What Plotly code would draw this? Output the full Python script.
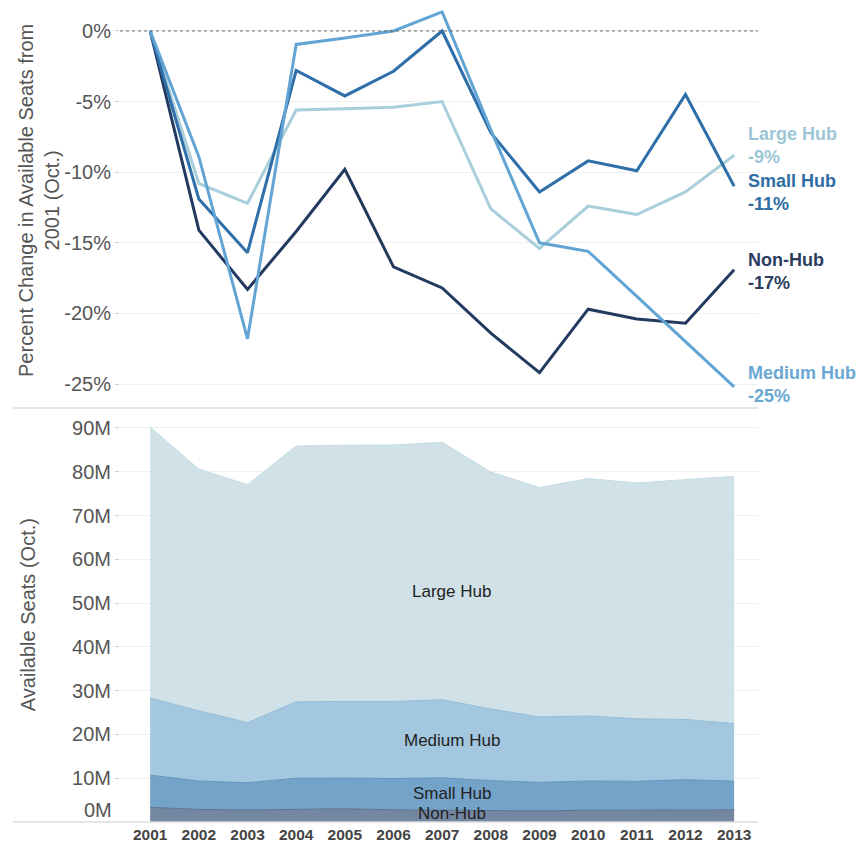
import plotly.graph_objects as go

years = [2001, 2002, 2003, 2004, 2005, 2006, 2007, 2008, 2009, 2010, 2011, 2012, 2013]

# Percent change in available seats from 2001 (Oct.)
pct_large = [0, -10.8, -12.2, -5.6, -5.5, -5.4, -5.0, -12.6, -15.4, -12.4, -13.0, -11.4, -8.8]
pct_medium = [0, -8.9, -21.8, -0.95, -0.5, 0.0, 1.35, -7.0, -15.0, -15.6, -18.8, -22.0, -25.2]
pct_small = [0, -11.9, -15.7, -2.8, -4.6, -2.85, 0.0, -7.2, -11.4, -9.2, -9.9, -4.5, -11.0]
pct_non = [0, -14.1, -18.3, -14.2, -9.8, -16.7, -18.2, -21.4, -24.2, -19.7, -20.4, -20.7, -16.9]

# Available seats (Oct.), millions
seats_non = [3.35, 2.88, 2.74, 2.87, 3.02, 2.79, 2.74, 2.63, 2.54, 2.69, 2.67, 2.66, 2.78]
seats_small = [7.35, 6.48, 6.2, 7.14, 7.01, 7.14, 7.35, 6.82, 6.51, 6.67, 6.62, 7.02, 6.54]
seats_medium = [17.6, 16.03, 13.76, 17.43, 17.51, 17.6, 17.84, 16.37, 14.96, 14.85, 14.29, 13.73, 13.17]
seats_large = [61.9, 55.2, 54.35, 58.43, 58.5, 58.56, 58.8, 54.1, 52.37, 54.22, 53.85, 54.84, 56.45]

pct_ticks = [0, -5, -10, -15, -20, -25]
pct_ticktext = ["0%", "-5%", "-10%", "-15%", "-20%", "-25%"]
seat_ticks = [10, 20, 30, 40, 50, 60, 70, 80, 90]
seat_ticktext = ["10M", "20M", "30M", "40M", "50M", "60M", "70M", "80M", "90M"]
year_ticktext = ["<b>%d</b>" % y for y in years]

C_LARGE = "#a9cfdb"
C_MEDIUM = "#62a4d3"
C_SMALL = "#2e6ea9"
C_NON = "#233a60"

F_LARGE = "#d0e2e8"
F_MEDIUM = "#a3c7df"
F_SMALL = "#73a3c8"
F_NON = "#7487a2"

FONT = "Liberation Sans, Arial, sans-serif"
GRAY = "#555555"

fig = go.Figure()

# Top: percent change lines
for name, vals, col in [("Non-Hub", pct_non, C_NON), ("Large Hub", pct_large, C_LARGE),
                        ("Small Hub", pct_small, C_SMALL), ("Medium Hub", pct_medium, C_MEDIUM)]:
    fig.add_trace(go.Scatter(x=years, y=vals, mode="lines", name=name,
                             line=dict(color=col, width=3), xaxis="x", yaxis="y",
                             showlegend=False, hoverinfo="skip"))

# Bottom: stacked areas
for name, vals, fc, lc in [("Non-Hub", seats_non, F_NON, "#5e7391"),
                           ("Small Hub", seats_small, F_SMALL, "#5f94bd"),
                           ("Medium Hub", seats_medium, F_MEDIUM, "#94bcd7"),
                           ("Large Hub", seats_large, F_LARGE, "#c5dbe3")]:
    fig.add_trace(go.Scatter(x=years, y=vals, mode="lines", name=name, stackgroup="seats",
                             fillcolor=fc, line=dict(color=lc, width=1),
                             xaxis="x2", yaxis="y2", showlegend=False, hoverinfo="skip"))

xrange = [2000.38, 2013.49]
fig.update_layout(
    width=861, height=843,
    margin=dict(l=120, r=103, t=5, b=21, autoexpand=False),
    paper_bgcolor="white", plot_bgcolor="white",
    font=dict(family=FONT, color=GRAY),
    xaxis=dict(domain=[0, 1], range=xrange, anchor="y", showticklabels=False, automargin=False,
               showgrid=False, zeroline=False, showline=False, ticks=""),
    yaxis=dict(domain=[0.5067, 1], range=[-26.7, 1.84], tickvals=pct_ticks, ticktext=pct_ticktext,
               tickfont=dict(size=20, color=GRAY), showgrid=True, gridcolor="#efefef",
               automargin=False,
               zeroline=False, showline=False, ticks="outside", ticklen=4, tickcolor="#d0d0d0",
               tickwidth=1),
    xaxis2=dict(domain=[0, 1], range=xrange, anchor="y2", tickvals=years,
                ticktext=year_ticktext, ticklabelstandoff=1, automargin=False,
                tickfont=dict(size=15.5, color="#444444"),
                showgrid=False, zeroline=False, showline=False, ticks=""),
    yaxis2=dict(domain=[0, 0.5043], range=[0, 94.1], tickvals=seat_ticks, ticktext=seat_ticktext,
                tickfont=dict(size=20, color=GRAY), showgrid=True, gridcolor="#efefef",
                automargin=False,
                zeroline=False, showline=False, ticks="outside", ticklen=4, tickcolor="#d0d0d0",
                tickwidth=1),
)

shapes = [
    # dotted zero line
    dict(type="line", xref="paper", yref="y", x0=0, x1=1, y0=0, y1=0,
         line=dict(color="#666666", width=1, dash="dot")),
    # separator under top chart
    dict(type="line", xref="paper", yref="paper", x0=-0.168, x1=1.0, y0=0.5067, y1=0.5067,
         line=dict(color="#dddddd", width=1.5)),
    # bottom line of lower chart
    dict(type="line", xref="paper", yref="paper", x0=-0.168, x1=1.0, y0=0, y1=0,
         line=dict(color="#dddddd", width=1.5)),
]
fig.update_layout(shapes=shapes)

annotations = [
    dict(text="Percent Change in Available Seats from<br>2001 (Oct.)", xref="paper", yref="paper",
         x=-0.127, y=(822 - 200) / 817, textangle=-90, showarrow=False,
         font=dict(size=20, color=GRAY), xanchor="center", yanchor="middle"),
    dict(text="Available Seats (Oct.)", xref="paper", yref="paper",
         x=-0.144, y=(822 - 615) / 817, textangle=-90, showarrow=False,
         font=dict(size=20, color=GRAY), xanchor="center", yanchor="middle"),
    dict(text="0M", xref="paper", yref="y2", x=0, y=0, xanchor="right", yanchor="middle",
         xshift=-6, yshift=12, showarrow=False, font=dict(size=20, color=GRAY)),
]

# end labels for the lines
for name, val, ypos, col in [("Large Hub", "-9%", -8.1, "#9dc6d6"),
                             ("Small Hub", "-11%", -11.45, "#2e6ca4"),
                             ("Non-Hub", "-17%", -17.06, "#2b3d5e"),
                             ("Medium Hub", "-25%", -25.0, "#6aa8d3")]:
    annotations.append(dict(text=f"<b>{name}<br>{val}</b>", xref="x", yref="y", x=2013.25, y=ypos,
                            xanchor="left", yanchor="middle", align="left", showarrow=False,
                            font=dict(size=18, color=col)))

# area labels
for name, yv in [("Large Hub", 52.6), ("Medium Hub", 18.7), ("Small Hub", 6.4), ("Non-Hub", 2.0)]:
    annotations.append(dict(text=name, xref="x2", yref="y2", x=2007.2, y=yv, showarrow=False,
                            xanchor="center", yanchor="middle",
                            font=dict(size=17, color="#222222")))

fig.update_layout(annotations=annotations)

fig.write_html("out.html", config={"displayModeBar": False},
               post_script="document.body.style.margin='0';document.body.style.overflow='hidden';")
